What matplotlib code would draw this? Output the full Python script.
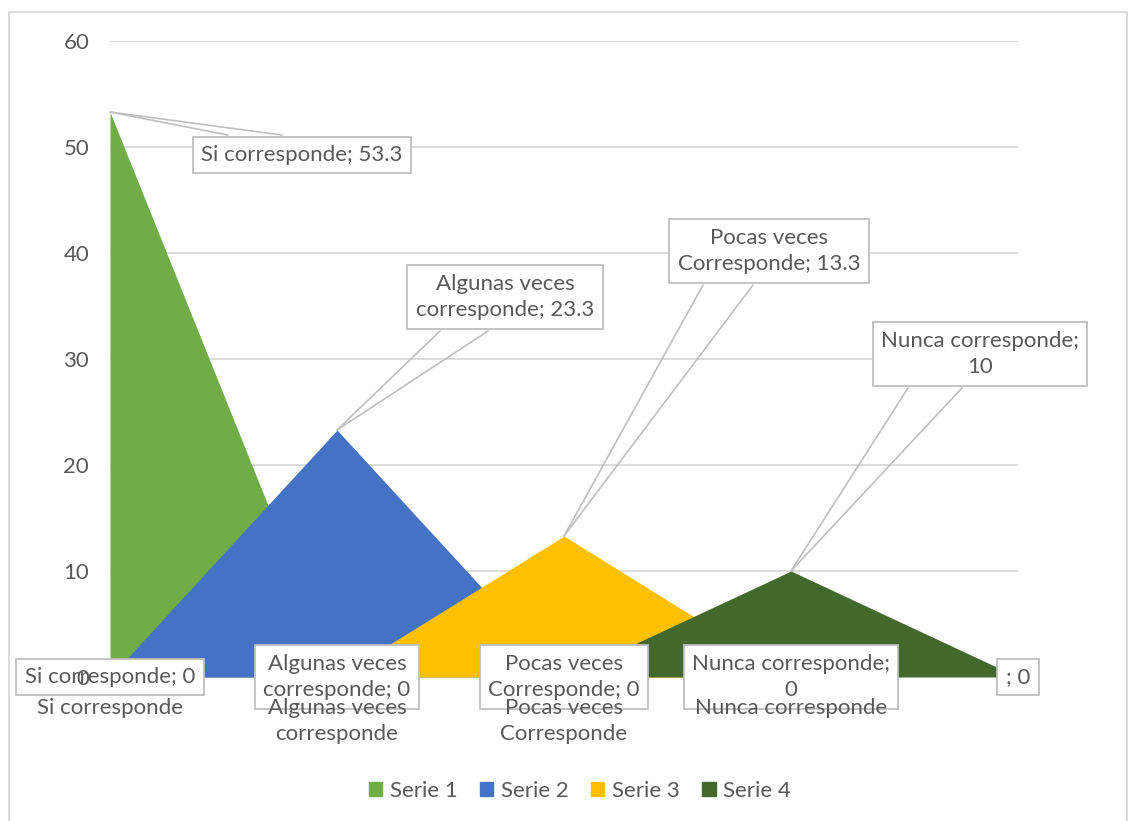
import matplotlib.pyplot as plt
import numpy as np
from matplotlib.patches import Patch, Rectangle

plt.rcParams['font.family'] = ['Lato', 'DejaVu Sans']

# datos
categorias = ["Si corresponde", "Algunas veces\ncorresponde", "Pocas veces\nCorresponde",
              "Nunca corresponde", ""]
serie1 = [53.3, 0, np.nan, np.nan, np.nan]
serie2 = [0, 23.3, 0, np.nan, np.nan]
serie3 = [np.nan, 0, 13.3, 0, np.nan]
serie4 = [np.nan, np.nan, 0, 10, 0]
nombres = ["Serie 1", "Serie 2", "Serie 3", "Serie 4"]
yticks = [0, 10, 20, 30, 40, 50, 60]

series = [serie1, serie2, serie3, serie4]
colores = ["#70AD47", "#4472C4", "#FFC000", "#43682B"]
sep = ["; ", "; ", "; ", ";\n", "; "]   # corte de linea en las etiquetas

gris_txt = "#595959"
gris_lin = "#D9D9D9"
gris_caja = "#BFBFBF"
fs = 16

fig = plt.figure(figsize=(11.3, 8.21), dpi=100)
ax = fig.add_axes([110/1130, 1 - 677/821, 908/1130, 636/821])

x = np.arange(len(categorias))
for i, (s, c) in enumerate(zip(series, colores)):
    ax.fill_between(x, 0, np.array(s, dtype=float), color=c, lw=0, zorder=2 + i)

# lineas de cuadricula (detras de las areas)
for t in yticks:
    ax.axhline(t, color=gris_lin, lw=1.3, zorder=1)

ax.set_xlim(0, len(categorias) - 1)
ax.set_ylim(0, 60)
ax.set_yticks(yticks)
ax.set_xticks(x, categorias)
ax.tick_params(length=0, colors=gris_txt, labelsize=fs)
ax.tick_params(axis='y', pad=15)
ax.tick_params(axis='x', pad=15)
for lab in ax.get_xticklabels():
    lab.set_linespacing(1.4)
for sp in ax.spines.values():
    sp.set_visible(False)
ax.xaxis.set_zorder(20)
ax.yaxis.set_zorder(20)

caja = dict(boxstyle='square,pad=0.38', fc='white', ec=gris_caja, lw=1.3)

# desplazamientos (pixeles) de las etiquetas con globo: texto, base izq, base der
globos = {
    0: ((192, -43), (118, -23), (172, -23)),
    1: ((168, 133), (103, 99), (151, 99)),
    2: ((205, 285), (139, 251), (189, 251)),
    3: ((189, 217), (117, 183), (171, 183)),
}

for i, s in enumerate(series):
    j = int(np.nanargmax(s))
    v = s[j]
    txt_off, b1, b2 = globos[i]
    for b in (b1, b2):
        ax.annotate('', xy=(j, v), xytext=b, textcoords='offset pixels',
                    arrowprops=dict(arrowstyle='-', color=gris_caja, lw=1.2,
                                    shrinkA=0, shrinkB=0), zorder=9)
    ax.annotate(categorias[j] + sep[j] + f"{v:g}", xy=(j, v), xytext=txt_off,
                textcoords='offset pixels', ha='center', va='center',
                fontsize=fs, color=gris_txt, bbox=caja, linespacing=1.4,
                zorder=10, annotation_clip=False)

# etiquetas en cero
hechas = set()
for s in series:
    for j, v in enumerate(s):
        if v == 0 and j not in hechas:
            hechas.add(j)
            ax.annotate(categorias[j] + sep[j] + f"{v:g}", xy=(j, v),
                        ha='center', va='center', fontsize=fs, color=gris_txt,
                        bbox=caja, linespacing=1.4, zorder=10,
                        annotation_clip=False)

handles = [Patch(color=c, label=n) for c, n in zip(colores, nombres)]
fig.legend(handles=handles, loc='center', bbox_to_anchor=(580/1130, 1 - 791/821),
           ncol=4, frameon=False, fontsize=fs, labelcolor=gris_txt,
           handlelength=0.6, handleheight=0.6, handletextpad=0.35, columnspacing=1.0)

fig.patches.append(Rectangle((9/1130, -0.05), 1118/1130, 809/821 + 0.05,
                             transform=fig.transFigure, fill=False,
                             ec=gris_lin, lw=1.3))

fig.savefig("out.png", dpi=100)
